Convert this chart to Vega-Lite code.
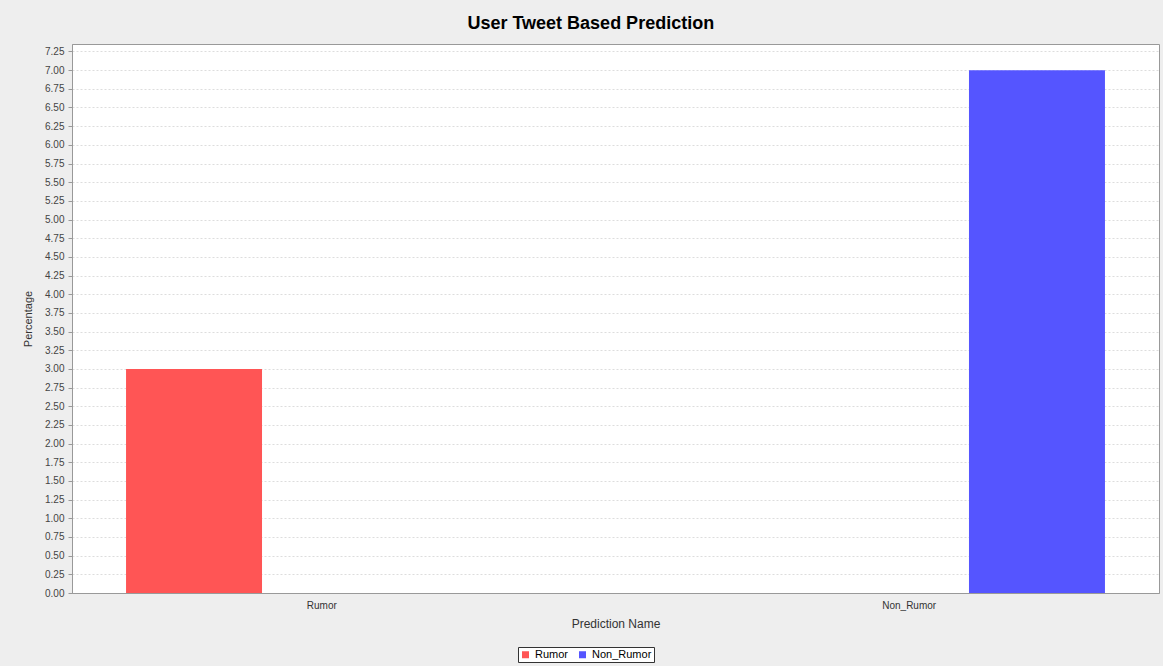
{
  "$schema": "https://vega.github.io/schema/vega-lite/v6.json",
  "width": 1087,
  "height": 549,
  "autosize": {"type": "none"},
  "padding": {"left": 72, "top": 44, "right": 4, "bottom": 73},
  "background": "#eeeeee",
  "config": {
    "font": "Liberation Sans",
    "view": {"stroke": "#999999", "fill": "#ffffff", "strokeWidth": 1}
  },
  "title": {
    "text": "User Tweet Based Prediction",
    "anchor": "middle",
    "frame": "bounds",
    "font": "Liberation Sans",
    "fontSize": 18,
    "fontWeight": "bold",
    "color": "#000000",
    "offset": 11
  },
  "data": {
    "values": [
      {"category": "Rumor", "series": "Rumor", "value": 3},
      {"category": "Rumor", "series": "Non_Rumor", "value": 0},
      {"category": "Non_Rumor", "series": "Rumor", "value": 0},
      {"category": "Non_Rumor", "series": "Non_Rumor", "value": 7}
    ]
  },
  "mark": {"type": "bar"},
  "encoding": {
    "x": {
      "field": "category",
      "type": "nominal",
      "sort": ["Rumor", "Non_Rumor"],
      "scale": {"paddingInner": 0.3333, "paddingOuter": 0.092},
      "axis": {
        "title": "Prediction Name",
        "labelAngle": 0,
        "ticks": false,
        "grid": false,
        "domainColor": "#999999",
        "labelFontSize": 10,
        "labelColor": "#333333",
        "labelPadding": 7,
        "titleFontSize": 12,
        "titleFontWeight": "normal",
        "titleColor": "#333333",
        "titlePadding": 8
      }
    },
    "xOffset": {
      "field": "series",
      "type": "nominal",
      "sort": ["Rumor", "Non_Rumor"],
      "scale": {"paddingInner": 0.468, "paddingOuter": 0}
    },
    "y": {
      "field": "value",
      "type": "quantitative",
      "scale": {"domain": [0, 7.35], "nice": false, "zero": true},
      "axis": {
        "title": "Percentage",
        "values": [0, 0.25, 0.5, 0.75, 1, 1.25, 1.5, 1.75, 2, 2.25, 2.5, 2.75, 3, 3.25, 3.5, 3.75, 4, 4.25, 4.5, 4.75, 5, 5.25, 5.5, 5.75, 6, 6.25, 6.5, 6.75, 7, 7.25],
        "format": ".2f",
        "labelFontSize": 10,
        "labelColor": "#444444",
        "labelPadding": 4,
        "tickSize": 4,
        "tickColor": "#999999",
        "domainColor": "#999999",
        "gridColor": "#d4d4d4",
        "gridDash": [2, 2],
        "gridWidth": 0.8,
        "titleFontSize": 11,
        "titleFontWeight": "normal",
        "titleColor": "#333333",
        "titlePadding": 11
      }
    },
    "color": {
      "field": "series",
      "type": "nominal",
      "sort": ["Rumor", "Non_Rumor"],
      "scale": {"domain": ["Rumor", "Non_Rumor"], "range": ["#FF5555", "#5555FF"]},
      "legend": {
        "title": null,
        "orient": "none",
        "legendX": 446,
        "legendY": 603,
        "direction": "horizontal",
        "symbolType": "square",
        "symbolSize": 49,
        "symbolStrokeWidth": 0,
        "labelFontSize": 11,
        "labelColor": "#000000",
        "strokeColor": "#333333",
        "fillColor": "#ffffff",
        "padding": 2,
        "columnPadding": 8
      }
    }
  }
}
